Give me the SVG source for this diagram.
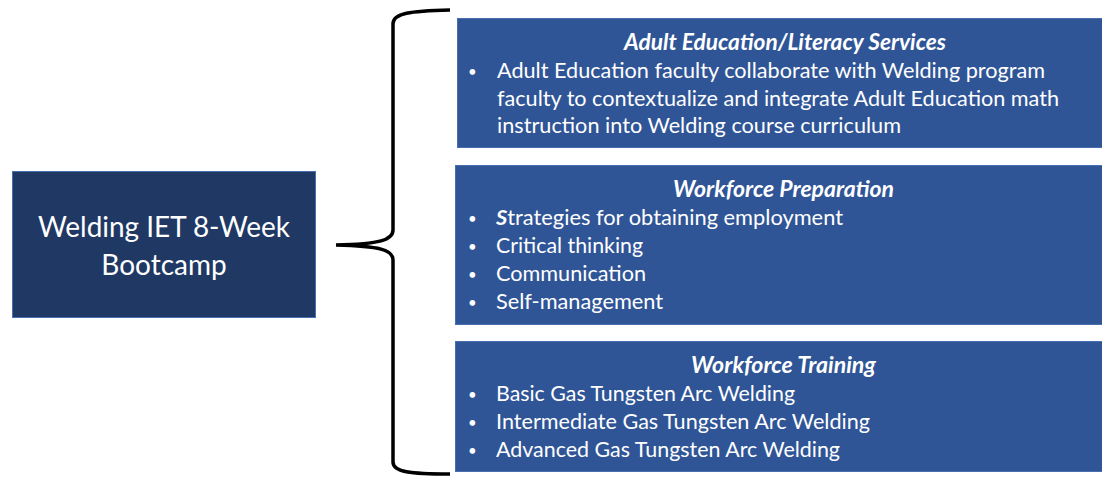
<svg xmlns="http://www.w3.org/2000/svg" width="1102" height="477" viewBox="0 0 1102 477">
<style>
.t{font-family:Lato,"Liberation Sans",sans-serif;fill:#fff;font-size:21.5px}
.h{font-weight:bold;font-style:italic;text-anchor:middle;font-size:22px}
.b{font-size:15px}
.big{font-size:28px;text-anchor:middle}
.box{fill:#2F5597;stroke:#4A6FB0;stroke-width:1}
</style>
<rect width="1102" height="477" fill="#fff"/>
<g id="bootcamp">
<rect x="12.5" y="171.5" width="303" height="146" fill="#203864" stroke="#4A6FB0" stroke-width="1"/>
<text class="t big" x="164" y="237" textLength="252" lengthAdjust="spacingAndGlyphs">Welding IET 8-Week</text>
<text class="t big" x="164" y="275">Bootcamp</text>
</g>
<g id="connectors">
<path d="M450,10 C410,11 393,13 393,24 L393,230 C393,240 380,244 336,245 C380,246 393,250 393,260 L393,462 C393,472 410,474 450,474" fill="none" stroke="#000" stroke-width="3.5"/>
</g>
<g id="adult-education">
<rect class="box" x="457.5" y="18.5" width="645" height="129"/>
<text class="t h" x="785" y="50" textLength="322" lengthAdjust="spacingAndGlyphs">Adult Education/Literacy Services</text>
<text class="t b" x="468" y="77">•</text>
<text class="t" x="497" y="78" textLength="548" lengthAdjust="spacingAndGlyphs">Adult Education faculty collaborate with Welding program</text>
<text class="t" x="497" y="106" textLength="562" lengthAdjust="spacingAndGlyphs">faculty to contextualize and integrate Adult Education math</text>
<text class="t" x="497" y="133" textLength="404" lengthAdjust="spacingAndGlyphs">instruction into Welding course curriculum</text>
</g>
<g id="workforce-preparation">
<rect class="box" x="455.5" y="165.5" width="647" height="159"/>
<text class="t h" x="783.5" y="197" textLength="221" lengthAdjust="spacingAndGlyphs">Workforce Preparation</text>
<text class="t b" x="468" y="224">•</text>
<text class="t" x="496" y="225" textLength="347" lengthAdjust="spacingAndGlyphs"><tspan font-weight="bold" font-style="italic">S</tspan>trategies for obtaining employment</text>
<text class="t b" x="468" y="252">•</text>
<text class="t" x="496" y="253" textLength="147" lengthAdjust="spacingAndGlyphs">Critical thinking</text>
<text class="t b" x="468" y="280">•</text>
<text class="t" x="496" y="281" textLength="150" lengthAdjust="spacingAndGlyphs">Communication</text>
<text class="t b" x="468" y="308">•</text>
<text class="t" x="496" y="309" textLength="167" lengthAdjust="spacingAndGlyphs">Self-management</text>
</g>
<g id="workforce-training">
<rect class="box" x="455.5" y="341.5" width="647" height="130"/>
<text class="t h" x="783.5" y="373" textLength="185" lengthAdjust="spacingAndGlyphs">Workforce Training</text>
<text class="t b" x="468" y="400">•</text>
<text class="t" x="496" y="401" textLength="299" lengthAdjust="spacingAndGlyphs">Basic Gas Tungsten Arc Welding</text>
<text class="t b" x="468" y="428">•</text>
<text class="t" x="496" y="429" textLength="374" lengthAdjust="spacingAndGlyphs">Intermediate Gas Tungsten Arc Welding</text>
<text class="t b" x="468" y="456">•</text>
<text class="t" x="496" y="457" textLength="344" lengthAdjust="spacingAndGlyphs">Advanced Gas Tungsten Arc Welding</text>
</g>
</svg>
